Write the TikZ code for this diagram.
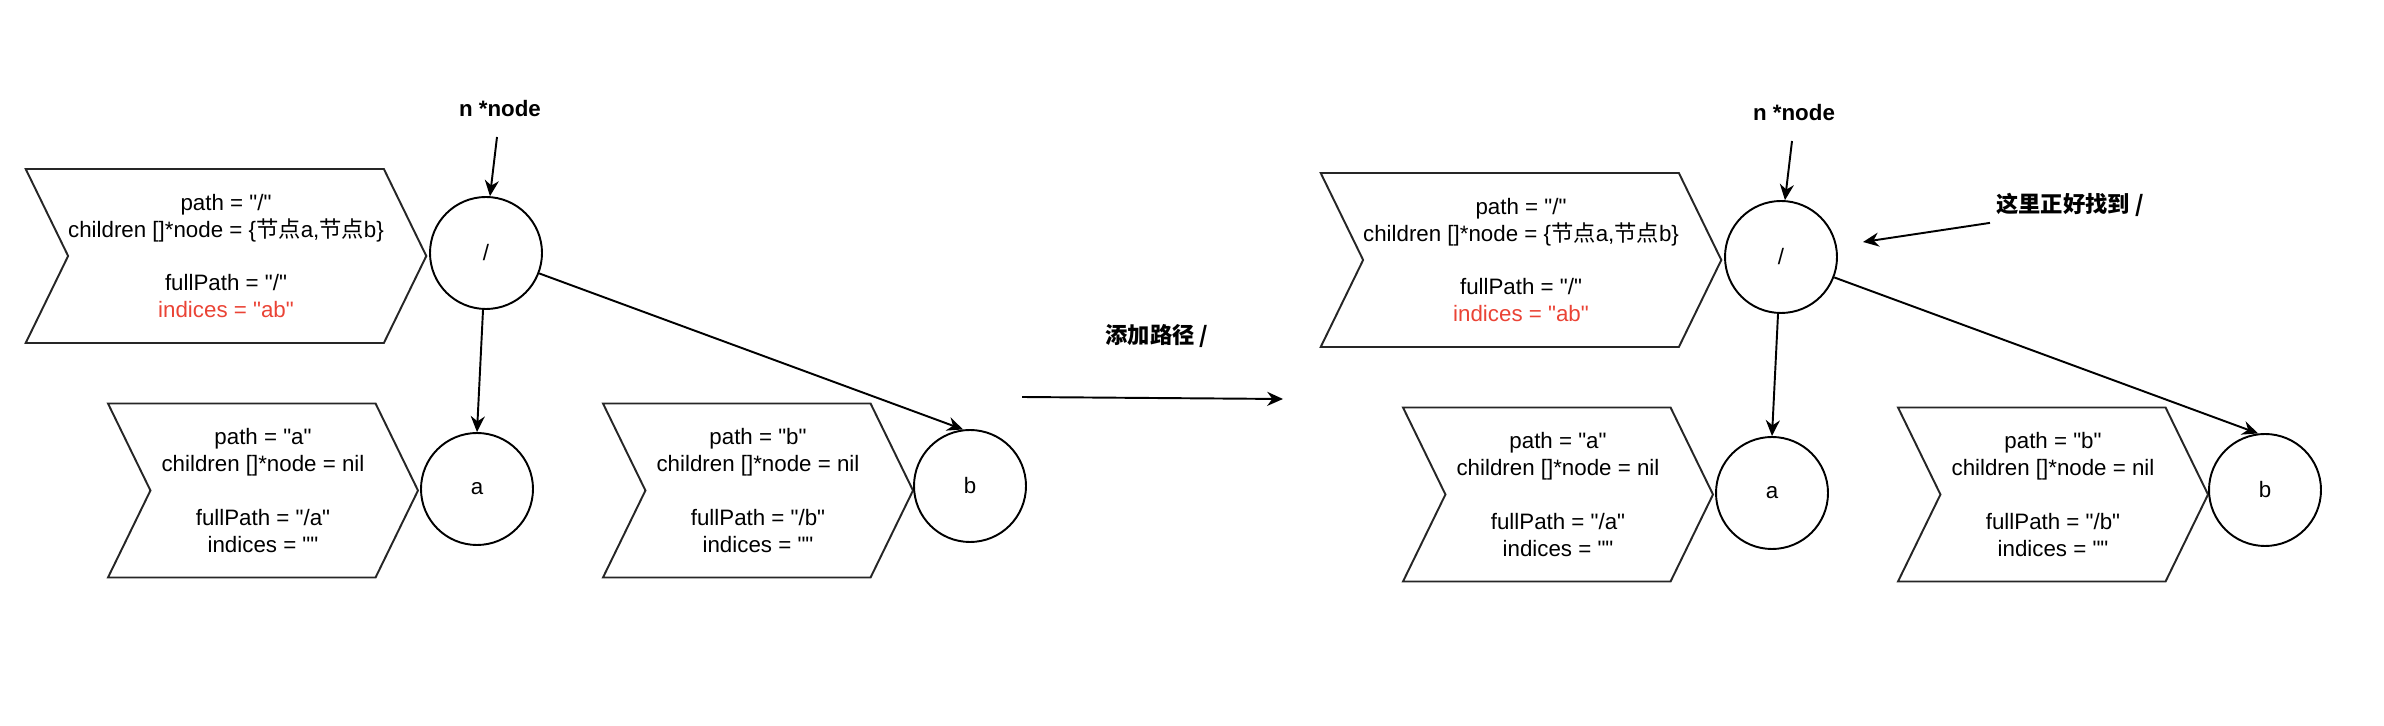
\documentclass[tikz,border=0pt]{standalone}
\usepackage{fontspec}
\setmainfont{Liberation Sans}[Ligatures=TeXOff]
\newfontfamily\cjk{Noto Sans CJK SC}
\usetikzlibrary{shapes.symbols,arrows.meta}
\definecolor{idxred}{RGB}{234,67,53}

\begin{document}
\begin{tikzpicture}[
  font=\fontsize{12.7}{15.3}\selectfont,
  chev/.style={signal, signal from=west, signal to=east, signal pointer angle=128,
    draw=black!85, line width=1.1pt, align=center, inner sep=0pt, minimum height=3.48cm},
  tnode/.style={circle, draw, line width=1.1pt, minimum size=2.24cm, inner sep=0pt},
  link/.style={-{Stealth[length=9pt,width=8pt]}, line width=1.1pt},
  note/.style={font=\fontsize{12.7}{15.3}\selectfont\bfseries}
]
\path (0,0) -- (47.68,14.52); % adjust bounding box

% before
\node[chev, minimum width=7.96cm] (rootinfo) at (4.52,9.40)
  {path = "/"\\children []*node = \{{\cjk 节点}a,{\cjk 节点}b\}\\ \\fullPath = "/"\\ \textcolor{idxred}{indices = "ab"}};
\node[tnode] (root) at (9.72,9.46) {/};
\node[chev, minimum width=6.2cm] (ainfo) at (5.26,4.71)
  {path = "a"\\children []*node = nil\\ \\fullPath = "/a"\\indices = ""};
\node[tnode] (a) at (9.54,4.74) {a};
\node[chev, minimum width=6.2cm] (binfo) at (15.16,4.71)
  {path = "b"\\children []*node = nil\\ \\fullPath = "/b"\\indices = ""};
\node[tnode] (b) at (19.40,4.80) {b};
\node[note] (ptr) at (10.00,12.34) {n *node};
\coordinate (ptrend) at (9.94,11.78);
\draw[link] (ptrend) -- (root.86);
\draw[link] (root.-93) -- (a.north);
\draw[link] (root.-21) -- (b.97);

% step
\node[note] (steplabel) at (23.14,7.80) {\cjk 添加路径 /};
\coordinate (stepfrom) at (20.44,6.58);
\coordinate (stepto) at (25.66,6.54);
\draw[link] (stepfrom) -- (stepto);

% after
\node[chev, minimum width=7.96cm] (rootinfo2) at (30.42,9.32)
  {path = "/"\\children []*node = \{{\cjk 节点}a,{\cjk 节点}b\}\\ \\fullPath = "/"\\ \textcolor{idxred}{indices = "ab"}};
\node[tnode] (root2) at (35.62,9.38) {/};
\node[chev, minimum width=6.2cm] (ainfo2) at (31.16,4.63)
  {path = "a"\\children []*node = nil\\ \\fullPath = "/a"\\indices = ""};
\node[tnode] (a2) at (35.44,4.66) {a};
\node[chev, minimum width=6.2cm] (binfo2) at (41.06,4.63)
  {path = "b"\\children []*node = nil\\ \\fullPath = "/b"\\indices = ""};
\node[tnode] (b2) at (45.30,4.72) {b};
\node[note] (ptr2) at (35.88,12.26) {n *node};
\coordinate (ptrend2) at (35.84,11.70);
\draw[link] (ptrend2) -- (root2.86);
\draw[link] (root2.-93) -- (a2.north);
\draw[link] (root2.-21) -- (b2.97);
\node[note] (found) at (41.40,10.42) {\cjk 这里正好找到 /};
\coordinate (foundtip) at (37.26,9.68);
\draw[link] (found.south west) -- (foundtip);
\end{tikzpicture}
\end{document}
